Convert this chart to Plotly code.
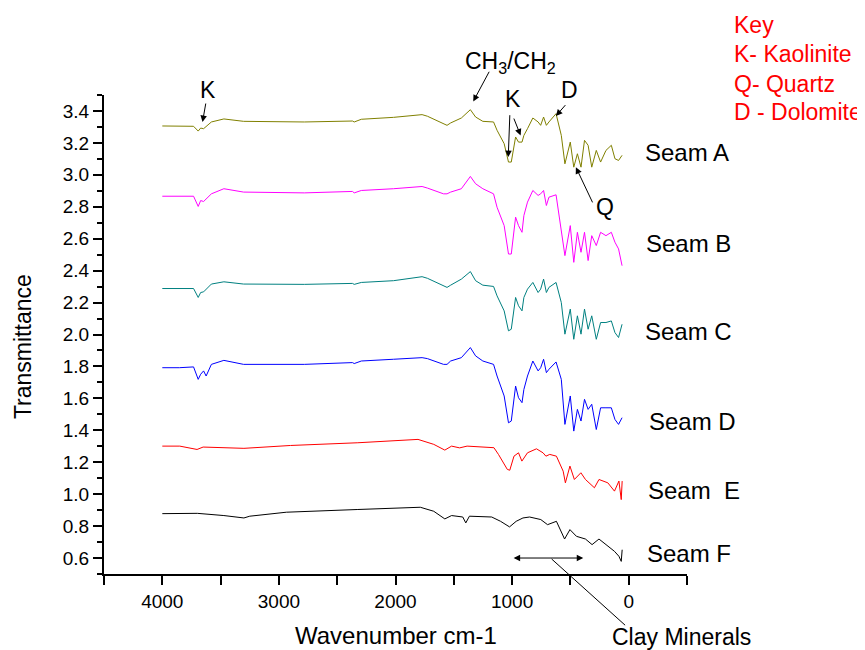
import plotly.graph_objects as go

# ---- data ----
wn_abcd = [4000, 3854, 3732, 3692, 3671, 3646, 3624, 3579, 3472, 3303, 2782, 2369, 2354, 2293,
           2017, 1772, 1726, 1588, 1558, 1527, 1435, 1358, 1313, 1251, 1159, 1129, 1068, 1031,
           1007, 970, 945, 915, 899, 868, 822, 777, 755, 730, 706, 684, 623, 578, 547, 501,
           471, 440, 409, 379, 348, 317, 278, 241, 195, 149, 118, 87, 57]

seam_a = [3.306, 3.304, 3.304, 3.274, 3.293, 3.289, 3.304, 3.331, 3.350, 3.335, 3.331, 3.337, 3.331, 3.348,
          3.360, 3.377, 3.367, 3.320, 3.310, 3.325, 3.356, 3.408, 3.362, 3.335, 3.331, 3.279, 3.195, 3.080,
          3.080, 3.237, 3.205, 3.205, 3.247, 3.289, 3.356, 3.331, 3.310, 3.362, 3.310, 3.331, 3.383, 3.247, 3.069, 3.205,
          3.048, 3.132, 3.048, 3.216, 3.185, 3.048, 3.153, 3.080, 3.153, 3.185, 3.101, 3.090, 3.122]

seam_b = [2.866, 2.866, 2.866, 2.802, 2.839, 2.833, 2.850, 2.881, 2.913, 2.892, 2.887, 2.896, 2.887, 2.902,
          2.913, 2.927, 2.917, 2.881, 2.881, 2.892, 2.913, 2.990, 2.944, 2.913, 2.881, 2.797, 2.682, 2.504,
          2.504, 2.735, 2.682, 2.640, 2.745, 2.829, 2.902, 2.871, 2.881, 2.902, 2.808, 2.860, 2.875, 2.661, 2.494, 2.682,
          2.452, 2.640, 2.515, 2.640, 2.463, 2.619, 2.557, 2.640, 2.619, 2.640, 2.578, 2.536, 2.431]

seam_c = [2.288, 2.288, 2.288, 2.232, 2.263, 2.267, 2.284, 2.316, 2.330, 2.316, 2.314, 2.320, 2.314, 2.326,
          2.337, 2.362, 2.352, 2.301, 2.295, 2.309, 2.347, 2.394, 2.337, 2.309, 2.301, 2.242, 2.148, 2.023,
          2.033, 2.232, 2.180, 2.148, 2.232, 2.284, 2.326, 2.263, 2.284, 2.347, 2.263, 2.295, 2.326, 2.200, 2.002, 2.159,
          1.970, 2.117, 2.002, 2.159, 2.033, 2.117, 1.970, 2.075, 2.075, 2.085, 2.012, 1.981, 2.064]

seam_d = [1.792, 1.792, 1.797, 1.719, 1.751, 1.772, 1.740, 1.813, 1.838, 1.813, 1.813, 1.824, 1.818, 1.834,
          1.845, 1.855, 1.849, 1.813, 1.813, 1.834, 1.855, 1.918, 1.866, 1.834, 1.813, 1.740, 1.615, 1.447,
          1.458, 1.677, 1.604, 1.573, 1.656, 1.740, 1.834, 1.772, 1.792, 1.845, 1.761, 1.782, 1.828, 1.719, 1.437, 1.615,
          1.395, 1.531, 1.458, 1.594, 1.531, 1.563, 1.405, 1.541, 1.541, 1.541, 1.468, 1.437, 1.479]

wn_e = [4000, 3850, 3702, 3650, 3300, 2900, 2323, 2100, 1807, 1672, 1577, 1519, 1450, 1386, 1156, 1117,
        1041, 1020, 984, 945, 916, 868, 791, 735, 710, 677, 620, 562, 543, 504, 466, 410, 371, 294,
        255, 179, 122, 84, 64, 56]
seam_e = [1.301, 1.301, 1.280, 1.295, 1.287, 1.305, 1.322, 1.330, 1.343, 1.312, 1.276, 1.301, 1.290, 1.301,
          1.291, 1.249, 1.155, 1.150, 1.238, 1.259, 1.207, 1.259, 1.284, 1.259, 1.238, 1.249, 1.238, 1.144,
          1.071, 1.176, 1.092, 1.134, 1.092, 1.040, 1.092, 1.071, 1.019, 1.082, 0.966, 1.082]

wn_f = [4000, 3700, 3472, 3300, 3250, 2936, 2323, 1787, 1672, 1577, 1519, 1423, 1397, 1366, 1175, 1099,
        1022, 965, 907, 850, 754, 696, 620, 550, 504, 448, 371, 314, 255, 179, 122, 84, 64, 56]
seam_f = [0.878, 0.880, 0.866, 0.851, 0.862, 0.887, 0.904, 0.918, 0.893, 0.845, 0.866, 0.857, 0.820, 0.862,
          0.857, 0.830, 0.795, 0.830, 0.851, 0.857, 0.841, 0.809, 0.830, 0.719, 0.778, 0.736, 0.719, 0.684,
          0.719, 0.678, 0.642, 0.611, 0.579, 0.652]

series = [
    ("Seam A", wn_abcd, seam_a, "#808000"),
    ("Seam B", wn_abcd, seam_b, "#ff00ff"),
    ("Seam C", wn_abcd, seam_c, "#008080"),
    ("Seam D", wn_abcd, seam_d, "#0000ff"),
    ("Seam  E", wn_e, seam_e, "#ff0000"),
    ("Seam F", wn_f, seam_f, "#000000"),
]

seam_labels = ["Seam A", "Seam B", "Seam C", "Seam D", "Seam  E", "Seam F"]
seam_label_x = [0.925, 0.926, 0.925, 0.932, 0.930, 0.928]
seam_label_y = [0.881, 0.690, 0.506, 0.318, 0.175, 0.043]

key_lines = ["Key", "K- Kaolinite", "Q- Quartz", "D - Dolomite"]
key_y = [1.146, 1.085, 1.024, 0.965]

FONT = "Liberation Sans, Arial, sans-serif"

fig = go.Figure()
for name, wn, vals, col in series:
    fig.add_trace(go.Scatter(x=wn, y=vals, mode="lines", name=name,
                             line=dict(color=col, width=1), showlegend=False))

ann = []
for t, xp, yp in zip(seam_labels, seam_label_x, seam_label_y):
    ann.append(dict(text=t, xref="paper", yref="paper", x=xp, y=yp, xanchor="left",
                    yanchor="middle", showarrow=False, font=dict(size=24, color="black", family=FONT)))
for t, yp in zip(key_lines, key_y):
    ann.append(dict(text=t, xref="paper", yref="paper", x=1.078, y=yp, xanchor="left",
                    yanchor="middle", showarrow=False, font=dict(size=23, color="#ff0000", family=FONT)))

txt = [("K", 0.178, 1.010), ("CH<sub>3</sub>/CH<sub>2</sub>", 0.698, 1.067), ("K", 0.701, 0.991),
       ("D", 0.798, 1.010), ("Q", 0.859, 0.767)]
for t, xp, yp in txt:
    ann.append(dict(text=t, xref="paper", yref="paper", x=xp, y=yp, xanchor="center",
                    yanchor="middle", showarrow=False, font=dict(size=23, color="black", family=FONT)))

arrows = [(3655, 3.331, 3625, 3.456), (1333, 3.460, 1190, 3.655), (1033, 3.111, 1019, 3.383),
          (927, 3.247, 990, 3.362), (624, 3.369, 532, 3.446), (453, 3.048, 304, 2.818)]
for hx, hy, tx, ty in arrows:
    ann.append(dict(x=hx, y=hy, ax=tx, ay=ty, xref="x", yref="y", axref="x", ayref="y",
                    text="", showarrow=True, arrowhead=2, arrowsize=1.3, arrowwidth=1,
                    arrowcolor="black", standoff=0, startstandoff=0))

ann.append(dict(x=390, y=0.6, ax=1000, ay=0.6, xref="x", yref="y", axref="x", ayref="y",
                text="", showarrow=True, arrowhead=2, startarrowhead=2, arrowside="end+start",
                arrowsize=1.3, startarrowsize=1.3, arrowwidth=1, arrowcolor="black"))
ann.append(dict(x=661, y=0.594, ax=18, ay=0.171, xref="x", yref="y", axref="x", ayref="y",
                text="", showarrow=True, arrowhead=0, arrowwidth=1, arrowcolor="black"))
ann.append(dict(text="Clay Minerals", xref="paper", yref="paper", x=0.990, y=-0.131,
                xanchor="center", yanchor="middle", showarrow=False,
                font=dict(size=23, color="black", family=FONT)))

ann.append(dict(text="Transmittance", xref="paper", yref="paper", x=-0.140, y=0.4745,
                textangle=-90, xanchor="center", yanchor="middle", showarrow=False,
                font=dict(size=23, color="black", family=FONT)))
ann.append(dict(text="Wavenumber cm-1", xref="paper", yref="paper", x=0.5, y=-0.129,
                xanchor="center", yanchor="middle", showarrow=False,
                font=dict(size=24, color="black", family=FONT)))

# page body has an 8px margin, so the plot area is shifted by -8px to land where the reference has it
fig.update_layout(
    width=865, height=650,
    margin=dict(l=96, r=186, t=87, b=84),
    paper_bgcolor="white", plot_bgcolor="white",
    annotations=ann,
    font=dict(family=FONT, color="black"),
)
fig.update_xaxes(range=[4500, -500], tickmode="array", tickvals=[4000, 3000, 2000, 1000, 0],
                 ticktext=["4000", "3000", "2000", "1000", "0"],
                 ticks="outside", ticklen=9, tickwidth=1.5, tickcolor="black",
                 minor=dict(tickvals=[4500, 3500, 2500, 1500, 500, -500], ticks="outside", ticklen=9,
                            tickwidth=1.5, tickcolor="black"),
                 showline=True, linecolor="black", linewidth=2, showgrid=False, zeroline=False,
                 tickfont=dict(size=19, color="black", family=FONT))
fig.update_yaxes(range=[0.5, 3.5], tickmode="array",
                 tickvals=[0.6, 0.8, 1.0, 1.2, 1.4, 1.6, 1.8, 2.0, 2.2, 2.4, 2.6, 2.8, 3.0, 3.2, 3.4],
                 ticktext=["0.6", "0.8", "1.0", "1.2", "1.4", "1.6", "1.8", "2.0", "2.2", "2.4",
                           "2.6", "2.8", "3.0", "3.2", "3.4"],
                 ticks="outside", ticklen=9, tickwidth=1.5, tickcolor="black",
                 minor=dict(tickvals=[0.5, 0.7, 0.9, 1.1, 1.3, 1.5, 1.7, 1.9, 2.1, 2.3, 2.5, 2.7,
                                      2.9, 3.1, 3.3, 3.5],
                            ticks="outside", ticklen=5, tickwidth=1.5, tickcolor="black"),
                 showline=True, linecolor="black", linewidth=2, showgrid=False, zeroline=False,
                 tickfont=dict(size=19, color="black", family=FONT))

fig.write_html("out.html")
